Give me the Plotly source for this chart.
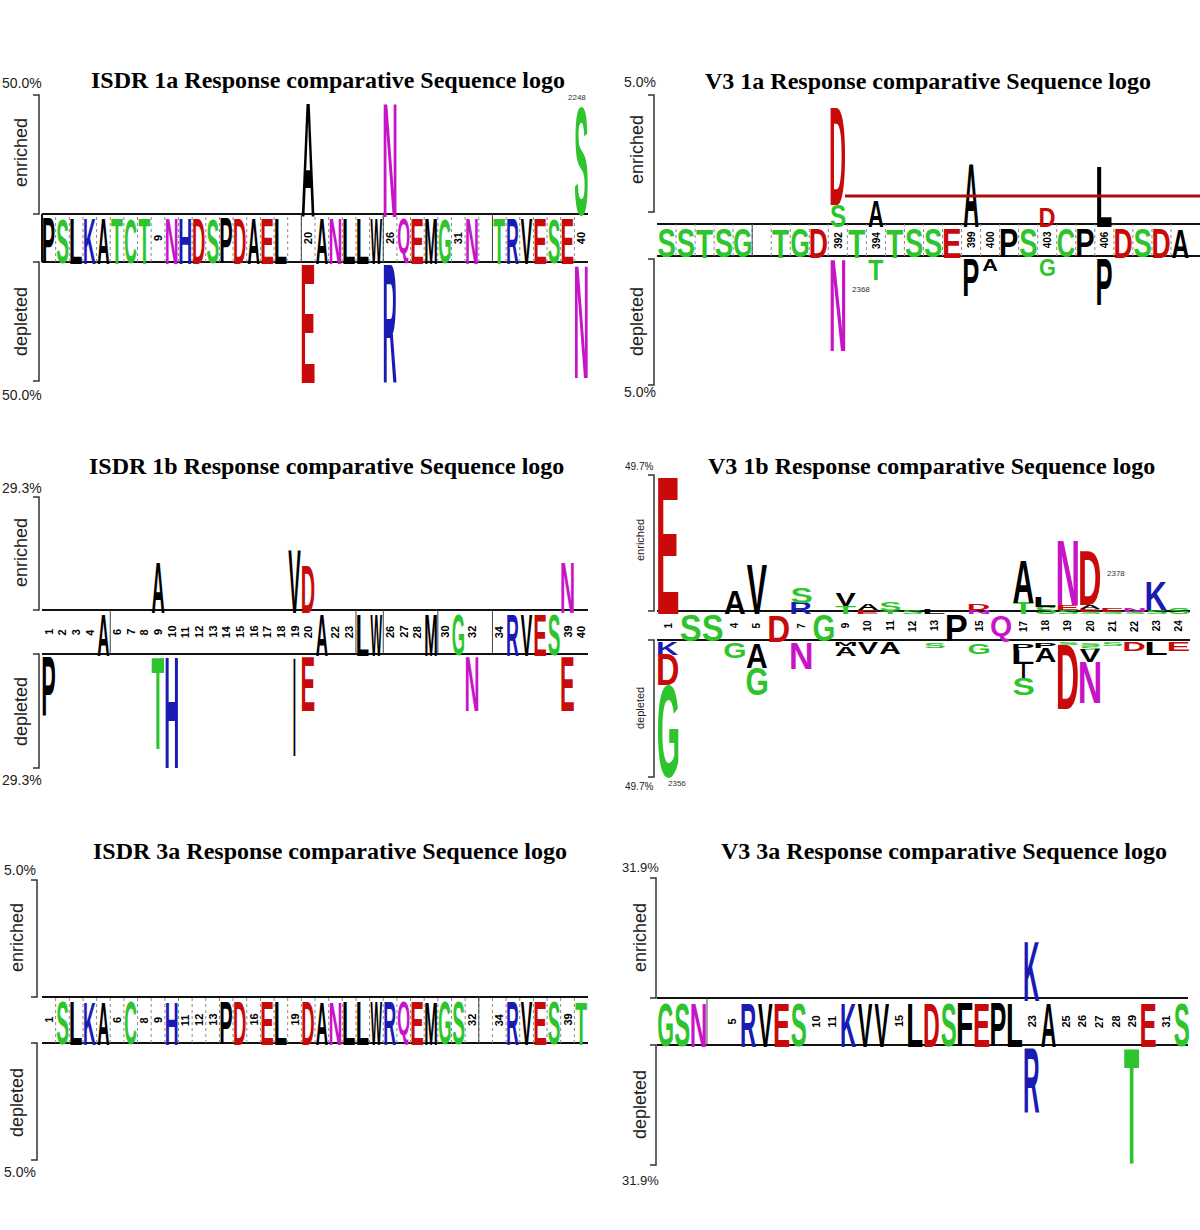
import plotly.graph_objects as go

W, H = 1200, 1230

# ------------------------------------------------------------------ data
# ISDR 1a (positions 1..40)
isdr1a_band = ["P", "S", "L", "K", "A", "T", "C", "T", "9", "N", "H", "D", "S", "P", "D", "A", "E", "L", "", "20",
               "A", "N", "L", "L", "W", "26", "Q", "E", "M", "G", "31", "N", "", "T", "R", "V", "E", "S", "E", "40"]
isdr1a_up_pos = [20, 26, 40]
isdr1a_up_res = ["A", "N", "S"]
isdr1a_up_pct = [47.9, 47.9, 45.8]
isdr1a_dn_pos = [20, 26, 40]
isdr1a_dn_res = ["E", "R", "N"]
isdr1a_dn_pct = [49.6, 49.6, 47.5]

# V3 1a (positions 383..410)
v3_1a_first = 383
v3_1a_band = ["S", "S", "T", "S", "G", "", "T", "G", "D", "392", "T", "394", "T", "S", "S", "E", "399", "400",
              "P", "S", "403", "C", "P", "406", "D", "S", "D", "A"]
v3_1a_up_pos = [392, 392, 394, 399, 403, 406]
v3_1a_up_res = ["S", "D", "A", "A", "D", "L"]
v3_1a_up_pct = [0.85, 3.75, 1.0, 2.45, 0.75, 2.35]
v3_1a_dn_pos = [392, 394, 399, 400, 403, 406]
v3_1a_dn_res = ["N", "T", "P", "A", "G", "P"]
v3_1a_dn_pct = [3.55, 0.8, 1.45, 0.45, 0.65, 1.8]

# ISDR 1b (positions 1..40)
isdr1b_band = ["1", "2", "3", "4", "A", "6", "7", "8", "9", "10", "11", "12", "13", "14", "15", "16", "17", "18", "19", "20",
               "A", "22", "23", "L", "W", "26", "27", "28", "M", "30", "G", "32", "", "34", "R", "V", "E", "S", "39", "40"]
isdr1b_up_pos = [9, 19, 20, 39]
isdr1b_up_res = ["A", "V", "D", "N"]
isdr1b_up_pct = [13.0, 16.1, 12.4, 13.0]
isdr1b_dn_pos = [1, 9, 10, 19, 20, 32, 39]
isdr1b_dn_res = ["P", "T", "H", "I", "E", "N", "E"]
isdr1b_dn_pct = [15.6, 23.9, 28.8, 25.7, 14.0, 14.0, 14.0]

# V3 1b (positions 1..24); stacks listed from the band outwards
v3_1b_band = ["1", "S", "S", "4", "5", "D", "7", "G", "9", "10", "11", "12", "13", "P", "15", "Q",
              "17", "18", "19", "20", "21", "22", "23", "24"]
v3_1b_up_pos = [1, 4, 5, 7, 7, 9, 9, 10, 10, 11, 11, 12, 13, 15, 15, 17, 17, 18, 18,
                19, 19, 19, 20, 20, 20, 20, 21, 21, 22, 22, 23, 23, 24]
v3_1b_up_res = ["E", "A", "V", "R", "S", "T", "V", "E", "A", "T", "S", "S", "L", "N", "D", "T", "A", "S", "L",
                "S", "E", "N", "S", "E", "A", "D", "S", "E", "S", "N", "S", "K", "S"]
v3_1b_up_pct = [49.5, 8.4, 17.9, 4.0, 5.5, 3.0, 4.5, 1.5, 2.5, 1.0, 3.5, 1.2, 2.0, 1.5, 2.2, 4.0, 15.7, 2.7, 3.6,
                1.5, 1.8, 23.8, 0.8, 1.0, 1.5, 19.5, 0.8, 1.2, 0.8, 1.5, 1.5, 10.5, 2.5]
v3_1b_dn_pos = [1, 1, 1, 4, 5, 5, 7, 9, 9, 10, 11, 13, 15, 17, 17, 17, 17, 18, 18,
                19, 19, 20, 20, 20, 20, 21, 22, 23, 24]
v3_1b_dn_res = ["K", "D", "G", "G", "A", "G", "N", "M", "A", "V", "A", "S", "G", "P", "L", "I", "S", "P", "A",
                "S", "D", "S", "S", "V", "N", "S", "D", "L", "E"]
v3_1b_dn_pct = [4.5, 11.0, 34.0, 5.5, 9.0, 10.0, 9.5, 1.2, 3.5, 4.0, 4.0, 2.0, 4.0, 2.5, 5.0, 5.5, 6.0, 2.0, 5.0,
                0.8, 23.5, 1.0, 1.5, 4.5, 15.0, 1.2, 3.0, 4.5, 3.0]

# ISDR 3a (positions 1..40)
isdr3a_band = ["1", "S", "L", "K", "A", "6", "C", "8", "9", "H", "11", "12", "13", "P", "D", "16", "E", "L", "19", "D",
               "A", "N", "L", "L", "W", "R", "Q", "E", "M", "G", "S", "32", "", "34", "R", "V", "E", "S", "39", "T"]
isdr3a_up_pos, isdr3a_up_res, isdr3a_up_pct = [], [], []
isdr3a_dn_pos, isdr3a_dn_res, isdr3a_dn_pct = [], [], []

# V3 3a (positions 1..32)
v3_3a_band = ["G", "S", "N", "", "5", "R", "V", "E", "S", "10", "11", "K", "V", "V", "15", "L", "D", "S", "F", "E",
              "P", "L", "23", "A", "25", "26", "27", "28", "29", "E", "31", "S"]
v3_3a_up_pos = [23]
v3_3a_up_res = ["K"]
v3_3a_up_pct = [16.0]
v3_3a_dn_pos = [23, 29]
v3_3a_dn_res = ["R", "T"]
v3_3a_dn_pct = [17.0, 30.6]

# sequence counts printed next to logos
count_labels = ["2248", "2368", "2378", "2356"]

# ------------------------------------------------------------------ style
GREEN, BLUE, RED, MAGENTA, BLACK = "#2ec42e", "#1a1ab4", "#c80a0a", "#c814c8", "#000000"
RES_COLOR = {"G": GREEN, "S": GREEN, "T": GREEN, "Y": GREEN, "C": GREEN,
             "N": MAGENTA, "Q": MAGENTA, "K": BLUE, "R": BLUE, "H": BLUE, "D": RED, "E": RED}

panels = [
    dict(title="ISDR 1a Response comparative Sequence logo", title_xy=(328, 80),
         band=isdr1a_band, first=1,
         up=(isdr1a_up_pos, isdr1a_up_res, isdr1a_up_pct), dn=(isdr1a_dn_pos, isdr1a_dn_res, isdr1a_dn_pct),
         maxpct=50.0, maxlabel="50.0%",
         x0=42, x1=588, top=95, btop=214, bbot=262, bottom=381, line_end=588, brk_x=39, brk_gap=(0, 0),
         lw=0.95, bw=0.85, numsize=11, dotted=True, seps=[19.5, 25.5, 33.5], left_border=True,
         pct_xy=[(22, 83), (22, 395)], pct_size=14, lab_xy=[(21, 153), (21, 322)], lab_size=18),
    dict(title="V3 1a Response comparative Sequence logo", title_xy=(928, 81),
         band=v3_1a_band, first=v3_1a_first,
         up=(v3_1a_up_pos, v3_1a_up_res, v3_1a_up_pct), dn=(v3_1a_dn_pos, v3_1a_dn_res, v3_1a_dn_pct),
         maxpct=5.0, maxlabel="5.0%",
         x0=657, x1=1190, top=95, btop=224, bbot=256, bottom=385, line_end=1200, brk_x=654, brk_gap=(12, 3),
         lw=0.78, bw=0.88, numsize=10, dotted=True, seps=[5.5], left_border=False,
         pct_xy=[(640, 82), (640, 392)], pct_size=14, lab_xy=[(637, 150), (637, 322)], lab_size=18),
    dict(title="ISDR 1b Response comparative Sequence logo", title_xy=(326, 466),
         band=isdr1b_band, first=1,
         up=(isdr1b_up_pos, isdr1b_up_res, isdr1b_up_pct), dn=(isdr1b_dn_pos, isdr1b_dn_res, isdr1b_dn_pct),
         maxpct=29.3, maxlabel="29.3%",
         x0=42, x1=588, top=497, btop=610, bbot=654, bottom=768, line_end=588, brk_x=39, brk_gap=(0, 0),
         lw=0.92, bw=0.85, numsize=11, dotted=False, seps=[5.5, 23.5, 25.5, 29.5, 33.5], left_border=False,
         pct_xy=[(22, 488), (22, 780)], pct_size=14, lab_xy=[(21, 553), (21, 712)], lab_size=18),
    dict(title="V3 1b Response comparative Sequence logo", title_xy=(932, 466),
         band=v3_1b_band, first=1,
         up=(v3_1b_up_pos, v3_1b_up_res, v3_1b_up_pct), dn=(v3_1b_dn_pos, v3_1b_dn_res, v3_1b_dn_pct),
         maxpct=49.7, maxlabel="49.7%",
         x0=657, x1=1190, top=475, btop=611, bbot=640, bottom=777, line_end=1190, brk_x=654, brk_gap=(0, 0),
         lw=0.92, bw=0.9, numsize=10, dotted=False, seps=[], left_border=False,
         pct_xy=[(639, 467), (639, 786)], pct_size=10, lab_xy=[(640, 540), (640, 708)], lab_size=11),
    dict(title="ISDR 3a Response comparative Sequence logo", title_xy=(330, 851),
         band=isdr3a_band, first=1,
         up=(isdr3a_up_pos, isdr3a_up_res, isdr3a_up_pct), dn=(isdr3a_dn_pos, isdr3a_dn_res, isdr3a_dn_pct),
         maxpct=5.0, maxlabel="5.0%",
         x0=42, x1=588, top=880, btop=997, bbot=1043, bottom=1160, line_end=588, brk_x=37, brk_gap=(0, 0),
         lw=0.92, bw=0.85, numsize=11, dotted=True, seps=[32.5], left_border=False,
         pct_xy=[(20, 870), (20, 1172)], pct_size=14, lab_xy=[(17, 938), (17, 1103)], lab_size=18),
    dict(title="V3 3a Response comparative Sequence logo", title_xy=(944, 851),
         band=v3_3a_band, first=1,
         up=(v3_3a_up_pos, v3_3a_up_res, v3_3a_up_pct), dn=(v3_3a_dn_pos, v3_3a_dn_res, v3_3a_dn_pct),
         maxpct=31.9, maxlabel="31.9%",
         x0=657, x1=1190, top=878, btop=998, bbot=1045, bottom=1165, line_end=1188, brk_x=656, brk_gap=(0, 0),
         lw=0.9, bw=0.88, numsize=11, dotted=False, seps=[3.5], left_border=False,
         pct_xy=[(640, 867), (640, 1180)], pct_size=13, lab_xy=[(640, 938), (640, 1105)], lab_size=18),
]

# count label anchor pixels (panel-specific decoration)
count_xy = [(577, 97), (861, 289), (1116, 573), (677, 783)]


def px(x):
    return x / W


def py(y):
    return 1 - y / H


fig = go.Figure()
shapes, annotations = [], []
layout_axes = {}

for k, p in enumerate(panels, start=1):
    xs = "" if k == 1 else str(k)
    xref, yref = "x" + xs, "y" + xs
    n = len(p["band"])
    first = p["first"]
    M = p["maxpct"]
    pxpp = (p["btop"] - p["top"]) / M
    h = (p["bbot"] - p["btop"]) / 2 / pxpp
    mdn = (p["bottom"] - p["bbot"]) / pxpp

    layout_axes["xaxis" + xs] = dict(domain=[px(p["x0"]), px(p["x1"])], range=[first - 0.5, first + n - 0.5],
                                     visible=False, fixedrange=True, anchor=yref)
    layout_axes["yaxis" + xs] = dict(domain=[py(p["bottom"]), py(p["top"])], range=[-(h + mdn), h + M],
                                     visible=False, fixedrange=True, anchor=xref)

    xs_l, ys_l, txt, cols, boxes = [], [], [], [], []

    def add_letter(pos, res, y0, y1, wfrac):
        if res == "I":
            wfrac = 0.14
        xs_l.append(pos)
        ys_l.append((y0 + y1) / 2)
        txt.append(res)
        cols.append(RES_COLOR.get(res, BLACK))
        boxes.append([pos - wfrac / 2, pos + wfrac / 2, y0, y1])

    # band (consensus letters or rotated position numbers)
    pad = 1.5 / pxpp
    for i, lab in enumerate(p["band"]):
        pos = first + i
        if lab == "":
            continue
        if lab.isdigit():
            annotations.append(dict(x=pos, y=0, xref=xref, yref=yref, text=lab, showarrow=False, textangle=-90,
                                    font=dict(family="Liberation Sans", size=p["numsize"], color="black",
                                              weight="bold"), xanchor="center", yanchor="middle"))
        else:
            add_letter(pos, lab, -h + pad, h - pad, p["bw"])

    # enriched stacks (grow upward from band top)
    cum = {}
    for pos, res, v in zip(*p["up"]):
        base = h + cum.get(pos, 0.0)
        add_letter(pos, res, base, base + v, p["lw"])
        cum[pos] = cum.get(pos, 0.0) + v
    # depleted stacks (grow downward from band bottom)
    cum = {}
    for pos, res, v in zip(*p["dn"]):
        base = -h - cum.get(pos, 0.0)
        add_letter(pos, res, base - v, base, p["lw"])
        cum[pos] = cum.get(pos, 0.0) + v

    fig.add_trace(go.Scatter(x=xs_l, y=ys_l, mode="text", text=txt, name="logo",
                             textfont=dict(family="Liberation Sans", size=12, color=cols, weight="bold"),
                             customdata=boxes, hoverinfo="skip", cliponaxis=False, showlegend=False,
                             xaxis=xref, yaxis=yref))

    # dotted separators inside band
    if p["dotted"]:
        for i in range(n - 1):
            xb = first + i + 0.5
            shapes.append(dict(type="line", xref=xref, yref=yref, x0=xb, x1=xb, y0=-h, y1=h,
                               line=dict(color="#8a8a8a", width=1, dash="dot"), layer="below"))
    for s in p["seps"]:
        xb = first - 1 + s
        shapes.append(dict(type="line", xref=xref, yref=yref, x0=xb, x1=xb, y0=-h, y1=h,
                           line=dict(color="#444444", width=1), layer="below"))

    # band outline
    for yy in (p["btop"], p["bbot"]):
        shapes.append(dict(type="line", xref="paper", yref="paper", x0=px(p["x0"]), x1=px(p["line_end"]),
                           y0=py(yy), y1=py(yy), line=dict(color="#111111", width=2), layer="below"))
    if p["left_border"]:
        shapes.append(dict(type="line", xref="paper", yref="paper", x0=px(p["x0"]), x1=px(p["x0"]),
                           y0=py(p["btop"]), y1=py(p["bbot"]), line=dict(color="#111111", width=2), layer="below"))

    # brackets
    bx = p["brk_x"]
    g_up, g_dn = p["brk_gap"]
    for ya, yb in ((p["top"], p["btop"] - g_up), (p["bbot"] + g_dn, p["bottom"])):
        path = "M {a},{b} L {c},{b} L {c},{d} L {a},{d}".format(a=px(bx - 6), b=py(ya), c=px(bx), d=py(yb))
        shapes.append(dict(type="path", xref="paper", yref="paper", path=path,
                           line=dict(color="#333333", width=1.5)))

    # titles and labels
    annotations.append(dict(x=px(p["title_xy"][0]), y=py(p["title_xy"][1]), xref="paper", yref="paper",
                            text=p["title"], showarrow=False, xanchor="center", yanchor="middle",
                            font=dict(family="Liberation Serif", size=24, color="black", weight="bold")))
    for (lx, ly) in p["pct_xy"]:
        annotations.append(dict(x=px(lx), y=py(ly), xref="paper", yref="paper", text=p["maxlabel"],
                                showarrow=False, xanchor="center", yanchor="middle",
                                font=dict(family="Liberation Sans", size=p["pct_size"], color="#222222")))
    for (lx, ly), word in zip(p["lab_xy"], ["enriched", "depleted"]):
        annotations.append(dict(x=px(lx), y=py(ly), xref="paper", yref="paper", text=word, textangle=-90,
                                showarrow=False, xanchor="center", yanchor="middle",
                                font=dict(family="Liberation Sans", size=p["lab_size"], color="#222222")))

# count labels
for lab, (cx, cy) in zip(count_labels, count_xy):
    annotations.append(dict(x=px(cx), y=py(cy), xref="paper", yref="paper", text=lab, showarrow=False,
                            xanchor="center", yanchor="middle",
                            font=dict(family="Liberation Sans", size=8, color="#333333")))

# dark red rule in the V3 1a panel
shapes.append(dict(type="line", xref="paper", yref="paper", x0=px(845), x1=px(1200), y0=py(196), y1=py(196),
                   line=dict(color="#b00c0c", width=3)))

fig.update_layout(width=W, height=H, margin=dict(l=0, r=0, t=0, b=0), paper_bgcolor="white",
                  plot_bgcolor="rgba(0,0,0,0)", showlegend=False, shapes=shapes, annotations=annotations,
                  **layout_axes)

STRETCH_JS = r"""
document.body.style.margin = '0';
document.body.style.padding = '0';
var gd = document.getElementById('{plot_id}');
function stretchLogo() {
  var fl = gd._fullLayout;
  var cv = document.createElement('canvas');
  var ctx = cv.getContext('2d');
  var FS = 100;
  ctx.font = 'bold ' + FS + 'px "Liberation Sans"';
  ctx.textAlign = 'left';
  ctx.textBaseline = 'alphabetic';
  var groups = gd.querySelectorAll('g.trace');
  for (var g = 0; g < groups.length; g++) {
    var tg = groups[g];
    var cd = tg.__data__;
    if (!cd || !cd[0] || !cd[0].trace) continue;
    var tr = cd[0].trace;
    if (tr.name !== 'logo') continue;
    var xa = fl[tr.xaxis.replace('x', 'xaxis')];
    var ya = fl[tr.yaxis.replace('y', 'yaxis')];
    var pts = tg.querySelectorAll('g.textpoint');
    for (var k = 0; k < pts.length; k++) {
      var tp = pts[k];
      var d = tp.__data__;
      var idx = (d && d.i !== undefined) ? d.i : k;
      var box = tr.customdata[idx];
      var t = tp.querySelector('text');
      if (!t || !box) continue;
      var ch = t.textContent;
      var m = ctx.measureText(ch);
      var L = m.actualBoundingBoxLeft, R = m.actualBoundingBoxRight;
      var A = m.actualBoundingBoxAscent, D = m.actualBoundingBoxDescent;
      var X0 = xa.l2p(box[0]), X1 = xa.l2p(box[1]);
      var Yb = ya.l2p(box[2]), Yt = ya.l2p(box[3]);
      var sx = (X1 - X0) / (L + R), sy = (Yb - Yt) / (A + D);
      t.setAttribute('x', 0); t.setAttribute('y', 0);
      t.removeAttribute('dy');
      var sp = t.querySelectorAll('tspan');
      for (var s = 0; s < sp.length; s++) { sp[s].setAttribute('x', 0); sp[s].setAttribute('y', 0); sp[s].removeAttribute('dy'); }
      t.setAttribute('text-anchor', 'start');
      t.style.fontSize = FS + 'px';
      t.style.fontWeight = 'bold';
      t.setAttribute('transform', 'translate(' + (X0 + L * sx) + ',' + (Yt + A * sy) + ') scale(' + sx + ',' + sy + ')');
    }
  }
}
stretchLogo();
"""

fig.write_html("out.html", post_script=STRETCH_JS, config={"displayModeBar": False})
